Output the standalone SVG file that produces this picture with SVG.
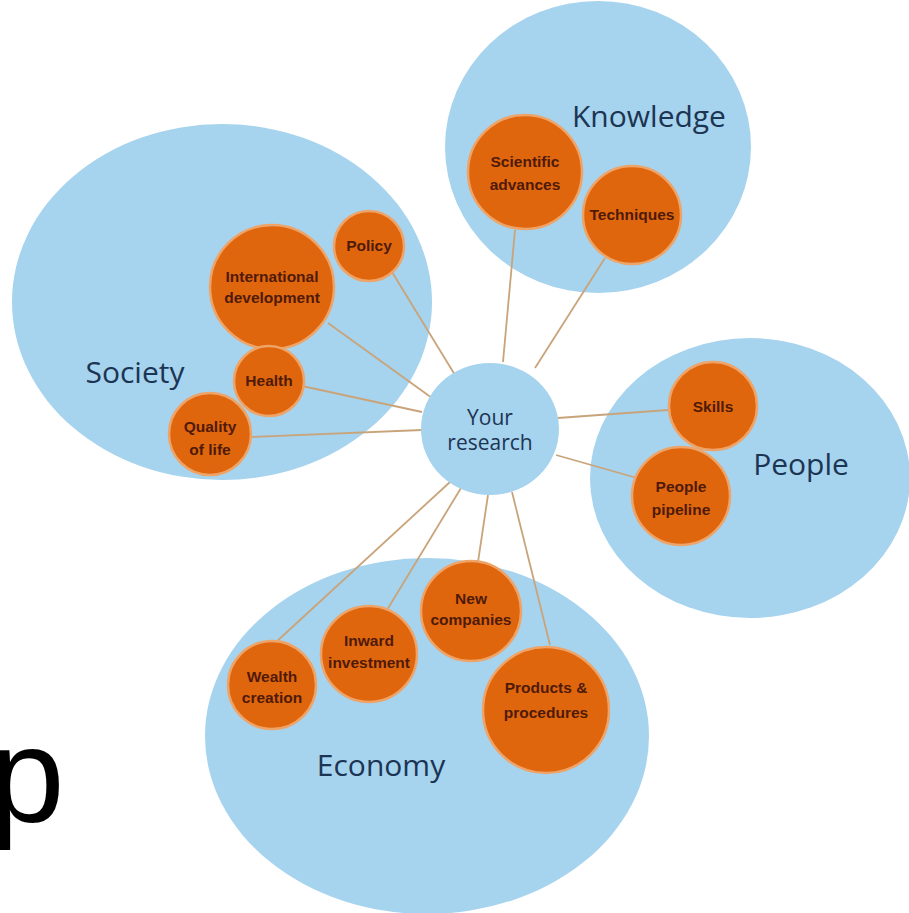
<svg xmlns="http://www.w3.org/2000/svg" width="909" height="913" viewBox="0 0 909 913">
<style>
.big{fill:#a6d3ee}
.sub{fill:#e0660e;stroke:#eea468;stroke-width:2.5}
.cat{font-family:"Open Sans","Noto Sans",sans-serif;font-size:30px;fill:#1c3553;text-anchor:middle}
.lbl{font-family:"Liberation Sans",Arial,sans-serif;font-weight:bold;font-size:15.5px;fill:#4f1a08;text-anchor:middle}
.core{font-family:"Open Sans","Noto Sans",sans-serif;font-size:21px;fill:#1c3553;text-anchor:middle}
.conn line{stroke:#c9a47a;stroke-width:1.8}
</style>
<rect width="909" height="913" fill="#ffffff"/>
<text x="-11" y="822" font-family="Liberation Sans,Arial,sans-serif" font-size="136" fill="#000">p</text>
<g id="society"><ellipse class="big" cx="222" cy="302" rx="210" ry="178"/><text class="cat" x="135" y="383">Society</text></g>
<g id="knowledge"><ellipse class="big" cx="598" cy="147" rx="153" ry="146"/><text class="cat" x="649" y="127">Knowledge</text></g>
<g id="people"><ellipse class="big" cx="750" cy="478" rx="160" ry="140"/><text class="cat" x="801" y="475">People</text></g>
<g id="economy"><ellipse class="big" cx="427" cy="736" rx="222" ry="178"/><text class="cat" x="381" y="776">Economy</text></g>
<g class="conn" id="connectors">
<line x1="503" y1="362" x2="515" y2="230"/>
<line x1="535" y1="368" x2="605" y2="258"/>
<line x1="392" y1="272" x2="455" y2="375"/>
<line x1="328" y1="323" x2="432" y2="398"/>
<line x1="302" y1="386" x2="422" y2="412"/>
<line x1="252" y1="437" x2="422" y2="430"/>
<line x1="558" y1="418" x2="668" y2="410"/>
<line x1="556" y1="455" x2="637" y2="478"/>
<line x1="275" y1="643" x2="450" y2="482"/>
<line x1="387" y1="610" x2="461" y2="488"/>
<line x1="478" y1="562" x2="488" y2="495"/>
<line x1="550" y1="645" x2="512" y2="492"/>
</g>
<g id="your-research"><ellipse class="big" cx="490" cy="429" rx="69" ry="66"/><text class="core" x="490" y="425">Your</text><text class="core" x="490" y="450">research</text></g>
<g id="scientific-advances"><circle class="sub" cx="525" cy="172" r="57"/><text class="lbl" x="525" y="167">Scientific</text><text class="lbl" x="525" y="190">advances</text></g>
<g id="techniques"><circle class="sub" cx="632" cy="215" r="49"/><text class="lbl" x="632" y="220">Techniques</text></g>
<g id="policy"><circle class="sub" cx="369" cy="246" r="35"/><text class="lbl" x="369" y="251">Policy</text></g>
<g id="international-development"><circle class="sub" cx="272" cy="287" r="62"/><text class="lbl" x="272" y="282">International</text><text class="lbl" x="272" y="303">development</text></g>
<g id="health"><circle class="sub" cx="269" cy="381" r="35"/><text class="lbl" x="269" y="386">Health</text></g>
<g id="quality-of-life"><circle class="sub" cx="210" cy="434" r="41"/><text class="lbl" x="210" y="432">Quality</text><text class="lbl" x="210" y="455">of life</text></g>
<g id="skills"><circle class="sub" cx="713" cy="406" r="44"/><text class="lbl" x="713" y="412">Skills</text></g>
<g id="people-pipeline"><circle class="sub" cx="681" cy="496" r="49"/><text class="lbl" x="681" y="492">People</text><text class="lbl" x="681" y="515">pipeline</text></g>
<g id="wealth-creation"><circle class="sub" cx="272" cy="685" r="44"/><text class="lbl" x="272" y="682">Wealth</text><text class="lbl" x="272" y="703">creation</text></g>
<g id="inward-investment"><circle class="sub" cx="369" cy="654" r="48"/><text class="lbl" x="369" y="646">Inward</text><text class="lbl" x="369" y="668">investment</text></g>
<g id="new-companies"><circle class="sub" cx="471" cy="611" r="50"/><text class="lbl" x="471" y="604">New</text><text class="lbl" x="471" y="625">companies</text></g>
<g id="products-procedures"><circle class="sub" cx="546" cy="710" r="63"/><text class="lbl" x="546" y="693" font-size="17">Products &amp;</text><text class="lbl" x="546" y="718" font-size="17">procedures</text></g>
</svg>
